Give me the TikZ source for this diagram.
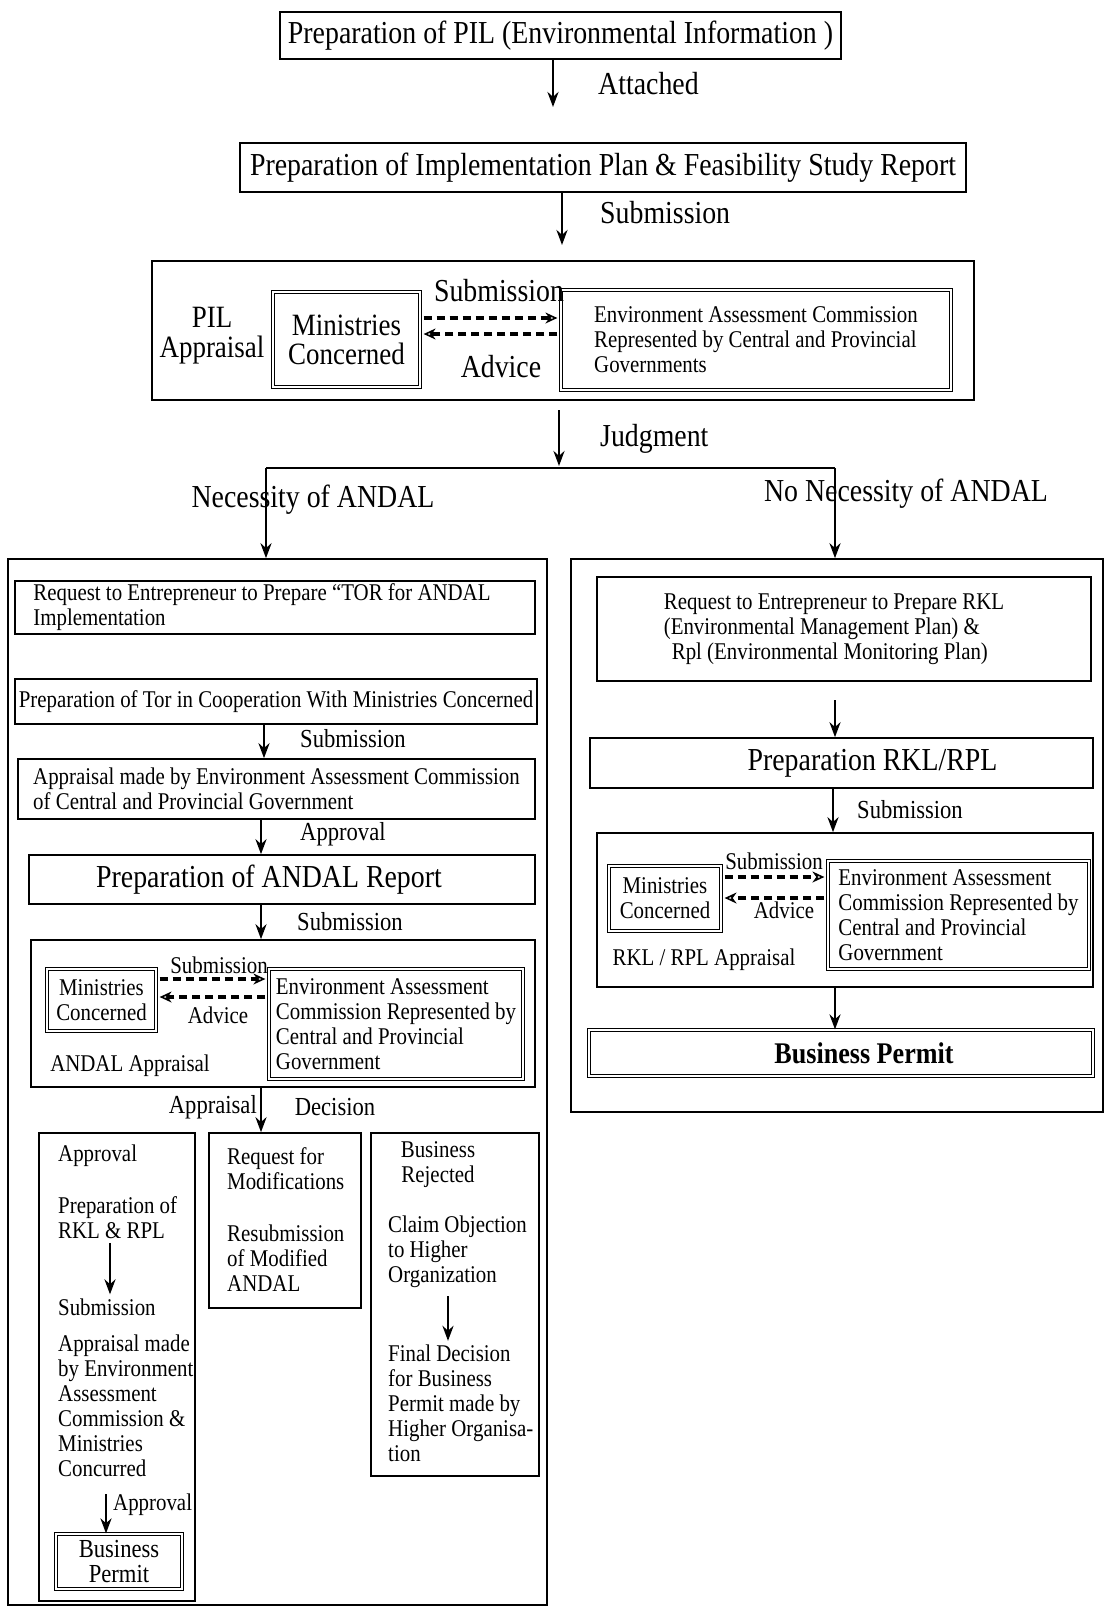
\documentclass[tikz,border=0pt]{standalone}
\usepackage{fontspec}
\setmainfont{Liberation Serif}[FakeStretch=0.87]
\usetikzlibrary{arrows.meta}
\begin{document}
\begin{tikzpicture}[x=1pt,y=-1pt,
  sbox/.style={draw, line width=1.6pt, inner sep=0pt},
  dbox/.style={draw, double, double distance=2.5pt, line width=1.2pt, inner sep=0pt},
  arr/.style={line width=2.6pt, -{Stealth[length=15pt,width=11pt]}},
  darr/.style={line width=3.4pt, dash pattern=on 8pt off 5pt, shorten >=3pt, shorten <=3pt,
     -{Stealth[open,length=12pt,width=11pt,line width=1.6pt]}},
  f32/.style={font=\fontsize{32}{34}\selectfont},
  f26/.style={font=\fontsize{26}{26}\selectfont},
  f24/.style={font=\fontsize{24}{25}\selectfont},
  lbl/.style={inner sep=0pt}]
\useasboundingbox (0,0) rectangle (1105,1607);

% ---------- top ----------
\node[sbox,f32,minimum width=561pt,minimum height=47pt] (pil) at (560.5,35.5) {Preparation of PIL (Environmental Information )};
\coordinate (attE) at (553,107);
\draw[arr] (pil.south -| attE) -- (attE);
\node[lbl,f32,anchor=west] (attL) at (598,84) {Attached};

\node[sbox,f32,minimum width=726pt,minimum height=49pt] (plan) at (603,167.5) {Preparation of Implementation Plan \& Feasibility Study Report};
\coordinate (subE) at (562,245);
\draw[arr] (plan.south -| subE) -- (subE);
\node[lbl,f32,anchor=west] (subL) at (600,213) {Submission};

% ---------- PIL appraisal ----------
\node[sbox,minimum width=822pt,minimum height=139pt] (pilap) at (563,330.5) {};
\node[lbl,font=\fontsize{31}{30}\selectfont,align=center] (pilT) at (212,336) {PIL\\Appraisal};
\node[dbox,font=\fontsize{31}{29}\selectfont,align=center,minimum width=147pt,minimum height=95pt] (min1) at (346.5,339.5) {Ministries\\Concerned};
\node[dbox,f24,align=left,minimum width=390pt,minimum height=100pt] (eac1) at (756,340) {Environment Assessment Commission\\Represented by Central and Provincial\\Governments};
\draw[darr] ([yshift=21.5pt]min1.east) -- ([yshift=21.5pt]min1.east -| eac1.west);
\draw[darr] ([yshift=5.5pt]min1.east -| eac1.west) -- ([yshift=5.5pt]min1.east);
\node[lbl,f32] (sub2) at (499,291) {Submission};
\node[lbl,f32] (adv1) at (501,367) {Advice};

% ---------- judgment ----------
\coordinate (jS) at (559,410);
\coordinate (jE) at (559,466);
\draw[arr] (jS) -- (jE);
\node[lbl,f32,anchor=west] (judL) at (600,439) {Judgment};
\coordinate (bL) at (266,468);
\coordinate (bR) at (835,468);
\draw[line width=1.6pt] (bL) -- (bR);
\node[sbox,minimum width=539pt,minimum height=1046pt] (lbox) at (277.5,1082) {};
\node[sbox,minimum width=532pt,minimum height=553pt] (rbox) at (837,835.5) {};
\draw[arr] (bL) -- (bL |- lbox.north);
\draw[arr] (bR) -- (bR |- rbox.north);
\node[lbl,f32] (necL) at (313,500) {Necessity of ANDAL};
\node[lbl,f32] (necR) at (906,494) {No Necessity of ANDAL};

% ---------- left column ----------
\node[sbox,f24,align=left,minimum width=520pt,minimum height=53pt] (L1) at (275,607.5) {Request to Entrepreneur to Prepare “TOR for ANDAL\hspace*{26pt}\\Implementation};
\node[sbox,f24,minimum width=522pt,minimum height=45pt] (L2) at (276,701.5) {Preparation of Tor in Cooperation With Ministries Concerned};
\node[sbox,f24,align=left,minimum width=517pt,minimum height=60pt] (L3) at (276.5,789) {Appraisal made by Environment Assessment Commission\\of Central and Provincial Government};
\node[sbox,f32,minimum width=506pt,minimum height=49pt] (L4) at (282,879.5) {Preparation of ANDAL Report\hspace*{26pt}};
\node[sbox,minimum width=504pt,minimum height=147pt] (L5) at (283,1013.5) {};
\coordinate (x264) at (264,0);
\coordinate (x261) at (261,0);
\draw[arr] (L2.south -| x264) -- (L3.north -| x264);
\node[lbl,f26,anchor=west] (subL2) at (300,739) {Submission};
\draw[arr] (L3.south -| x261) -- (L4.north -| x261);
\node[lbl,f26,anchor=west] (appL) at (300,834) {Approval};
\draw[arr] (L4.south -| x261) -- (L5.north -| x261);
\node[lbl,f26,anchor=west] (subL3) at (297,922) {Submission};

\node[dbox,f24,align=center,minimum width=109pt,minimum height=62pt] (min2) at (101.5,1000) {Ministries\\Concerned};
\node[dbox,f24,align=left,minimum width=254pt,minimum height=110pt] (eac2) at (396,1024) {Environment Assessment\\Commission Represented by\\Central and Provincial\\Government};
\draw[darr] ([yshift=21pt]min2.east) -- ([yshift=21pt]min2.east -| eac2.west);
\draw[darr] ([yshift=3pt]min2.east -| eac2.west) -- ([yshift=3pt]min2.east);
\node[lbl,f24] (sub4) at (219,965) {Submission};
\node[lbl,f24] (adv2) at (218,1015) {Advice};
\node[lbl,f24] (andA) at (130,1066) {ANDAL Appraisal};

\node[sbox,minimum width=156pt,minimum height=468pt] (bA) at (117,1367) {};
\node[sbox,minimum width=152pt,minimum height=175pt] (bB) at (285,1220.5) {};
\node[sbox,minimum width=168pt,minimum height=343pt] (bC) at (455,1304.5) {};
\draw[arr] (L5.south -| x261) -- (bB.north -| x261);
\node[lbl,f26,anchor=east] (apprL) at (257,1107) {Appraisal};
\node[lbl,f26] (decL) at (335,1107) {Decision};

% box A
\node[lbl,f24,anchor=west] (a1) at (58,1156) {Approval};
\node[lbl,f24,anchor=west,align=left] (a2) at (58,1217.5) {Preparation of\\RKL \& RPL};
\node[lbl,f24,anchor=west] (a3) at (58,1307) {Submission};
\node[lbl,f24,anchor=west,align=left] (a4) at (58,1406) {Appraisal made\\by Environment\\Assessment\\Commission \&\\Ministries\\Concurred};
\coordinate (x110) at (110,0);
\draw[arr] ([yshift=-4pt]a2.south -| x110) -- ([yshift=4pt]a3.north -| x110);
\node[dbox,font=\fontsize{26}{25}\selectfont,align=center,minimum width=126pt,minimum height=55pt] (bp1) at (119,1561.5) {Business\\Permit};
\coordinate (aS) at (106,1494);
\draw[arr] (aS) -- (aS |- bp1.north);
\node[lbl,f24,anchor=west] (apL2) at (113,1505) {Approval};

% box B
\node[lbl,f24,anchor=west,align=left] (b1) at (227,1168.5) {Request for\\Modifications};
\node[lbl,f24,anchor=west,align=left] (b2) at (227,1258) {Resubmission\\of Modified\\ANDAL};

% box C
\node[lbl,f24,align=center] (c1) at (438,1164.5) {Business\\Rejected};
\node[lbl,f24,anchor=west,align=left] (c2) at (388,1252) {Claim Objection\\to Higher\\Organization};
\node[lbl,f24,anchor=west,align=left] (c3) at (388,1403.5) {Final Decision\\for Business\\Permit made by\\Higher Organisa-\\tion};
\coordinate (x448) at (448,0);
\draw[arr] ([yshift=-8pt]c2.south -| x448) -- ([yshift=4pt]c3.north -| x448);

% ---------- right column ----------
\node[sbox,f24,align=left,minimum width=494pt,minimum height=104pt] (R1) at (844,629) {\hspace*{-20pt}Request to Entrepreneur to Prepare RKL\\\hspace*{-20pt}(Environmental Management Plan) \&\\\hspace*{-12pt}Rpl (Environmental Monitoring Plan)};
\node[sbox,f32,minimum width=503pt,minimum height=50pt] (R2) at (841.5,763) {\hspace*{62pt}Preparation RKL/RPL};
\coordinate (rS) at (835,700);
\draw[arr] (rS) -- (rS |- R2.north);
\node[sbox,minimum width=496pt,minimum height=154pt] (R3) at (845,910) {};
\coordinate (x833) at (833,0);
\draw[arr] (R2.south -| x833) -- (R3.north -| x833);
\node[lbl,f26,anchor=west] (subR) at (857,810) {Submission};
\node[dbox,f24,align=center,minimum width=112pt,minimum height=65pt] (min3) at (665,898.5) {Ministries\\Concerned};
\node[dbox,f24,align=left,minimum width=261pt,minimum height=108pt] (eac3) at (958.5,915) {Environment Assessment\\Commission Represented by\\Central and Provincial\\Government};
\draw[darr] ([yshift=21.5pt]min3.east) -- ([yshift=21.5pt]min3.east -| eac3.west);
\draw[darr] ([yshift=0.5pt]min3.east -| eac3.west) -- ([yshift=0.5pt]min3.east);
\node[lbl,f24] (sub5) at (774,861) {Submission};
\node[lbl,f24] (adv3) at (784,910) {Advice};
\node[lbl,f24] (rklA) at (704,960) {RKL / RPL Appraisal};
\node[dbox,font=\bfseries\fontsize{30}{30}\selectfont,minimum width=504pt,minimum height=46pt] (R4) at (841,1053) {\hspace*{46pt}Business Permit};
\coordinate (x835) at (835,0);
\draw[arr] (R3.south -| x835) -- (R4.north -| x835);
\end{tikzpicture}
\end{document}
